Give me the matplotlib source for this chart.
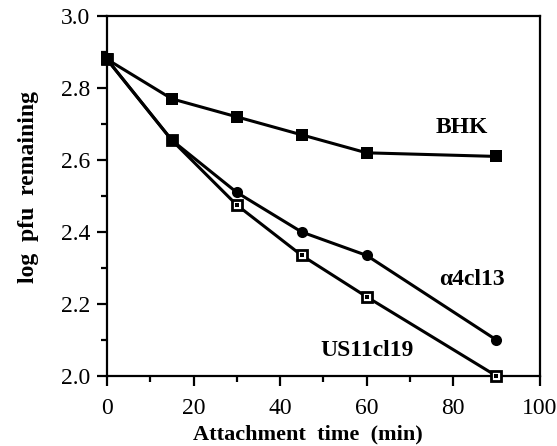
import matplotlib
matplotlib.use("Agg")
import matplotlib.pyplot as plt
from matplotlib.ticker import MultipleLocator

plt.rcParams['font.family'] = ['Liberation Serif', 'DejaVu Serif']

time = [0, 15, 30, 45, 60, 90]
bhk = [2.88, 2.77, 2.72, 2.67, 2.62, 2.61]
a4cl13 = [2.88, 2.655, 2.51, 2.40, 2.335, 2.10]
us11cl19 = [2.88, 2.655, 2.475, 2.335, 2.22, 2.00]

fig = plt.figure(figsize=(5.57, 4.46), dpi=100)
ax = fig.add_axes([0.192, 0.157, 0.777, 0.807])

lw = 2.2
ax.plot(time, us11cl19, color='black', lw=lw, marker='s', ms=6.5, mfc='white',
        mec='black', mew=2.0, zorder=3, clip_on=False)
ax.plot(time, us11cl19, ls='none', marker='s', ms=2.2, mfc='black', mew=0, zorder=4, clip_on=False)
ax.plot(time, a4cl13, color='black', lw=lw, marker='o', ms=8, mfc='black',
        mec='black', mew=0, zorder=3, clip_on=False)
ax.plot(time, bhk, color='black', lw=lw, marker='s', ms=9, mfc='black',
        mec='black', mew=0, zorder=5, clip_on=False)

ax.set_xlim(0, 100)
ax.set_ylim(2.0, 3.0)
ax.xaxis.set_major_locator(MultipleLocator(20))
ax.xaxis.set_minor_locator(MultipleLocator(10))
ax.yaxis.set_minor_locator(MultipleLocator(0.1))
ax.set_yticks([2.0, 2.2, 2.4, 2.6, 2.8, 3.0])
ax.set_yticklabels(['2.0', '2.2', '2.4', '2.6', '2.8', '3.0'])

for s in ax.spines.values():
    s.set_linewidth(1.6)
ax.tick_params(which='major', direction='out', length=7, width=1.6, labelsize=17)
ax.tick_params(axis='x', which='major', pad=9)
ax.tick_params(axis='y', which='major', pad=5)
ax.tick_params(which='minor', direction='out', length=4.5, width=1.6)

ax.set_xlabel('Attachment  time  (min)', fontsize=16, fontweight='bold', va='center')
ax.xaxis.set_label_coords(0.465, -0.163)
ax.set_ylabel('log  pfu  remaining', fontsize=17, fontweight='bold', va='center')
ax.yaxis.set_label_coords(-0.182, 0.525)

ax.text(82, 2.69, 'BHK', fontsize=17, fontweight='bold', ha='center', va='center')
ax.text(84.3, 2.267, '\u03b14cl13', fontsize=17, fontweight='bold', ha='center', va='center')
ax.text(60, 2.072, 'US11cl19', fontsize=17, fontweight='bold', ha='center', va='center')

fig.savefig('out.png', dpi=100)
